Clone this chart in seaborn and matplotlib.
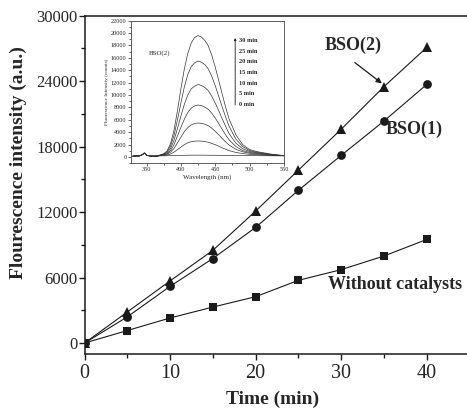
import numpy as np
import pandas as pd
import seaborn as sns
import matplotlib.pyplot as plt
from matplotlib.ticker import MultipleLocator

# main plot data
time_min = [0, 5, 10, 15, 20, 25, 30, 35, 40]
no_catalyst = [0, 1150, 2300, 3300, 4250, 5750, 6730, 7980, 9500]
bso1 = [0, 2400, 5200, 7750, 10600, 14000, 17200, 20350, 23700]
bso2 = [0, 2850, 5700, 8500, 12100, 15850, 19600, 23500, 27100]

# inset spectra (BSO(2)), one curve per irradiation time
wavelength = [330, 340, 344, 347, 350, 355, 360, 365, 370, 375, 380, 385, 390, 395, 400, 405,
              410, 415, 420, 425, 430, 435, 440, 445, 450, 455, 460, 465, 470, 480, 490, 500,
              510, 520, 530, 540, 550]
spec_30 = [150, 200, 400, 650, 300, 180, 150, 180, 350, 550, 1000, 2200, 4300, 7500, 11000, 14200,
           16700, 18400, 19300, 19600, 19350, 18800, 17900, 16400, 14500, 12400, 10200, 8100, 6200,
           3600, 2000, 1200, 900, 700, 500, 350, 250]
spec_25 = [150, 200, 400, 650, 300, 180, 150, 170, 320, 480, 850, 1800, 3500, 6000, 8700, 11300,
           13300, 14600, 15200, 15500, 15300, 14900, 14200, 13000, 11500, 9800, 8100, 6500, 5000,
           2900, 1700, 1050, 800, 620, 450, 330, 250]
spec_20 = [150, 200, 400, 650, 300, 180, 150, 170, 300, 420, 700, 1400, 2700, 4600, 6600, 8500,
           10000, 11000, 11450, 11700, 11550, 11200, 10700, 9800, 8700, 7500, 6200, 5000, 3800,
           2250, 1350, 900, 700, 550, 420, 310, 240]
spec_15 = [150, 200, 400, 650, 300, 180, 150, 160, 280, 380, 550, 1050, 2000, 3400, 4800, 6100,
           7200, 7900, 8250, 8400, 8300, 8050, 7700, 7050, 6300, 5400, 4500, 3600, 2800,
           1700, 1050, 750, 600, 480, 380, 300, 230]
spec_10 = [150, 200, 400, 650, 300, 180, 150, 160, 260, 330, 450, 800, 1400, 2300, 3200, 4100,
           4750, 5200, 5420, 5500, 5450, 5300, 5050, 4650, 4150, 3600, 3000, 2450, 1950,
           1250, 850, 620, 500, 420, 340, 280, 220]
spec_5 = [150, 200, 400, 650, 300, 180, 150, 160, 230, 270, 330, 500, 800, 1200, 1600, 2000,
          2300, 2480, 2570, 2600, 2580, 2500, 2400, 2200, 2000, 1750, 1500, 1270, 1050,
          750, 560, 450, 380, 330, 290, 250, 210]
spec_0 = [150, 200, 400, 650, 300, 180, 150, 160, 200, 210, 220, 235, 250, 265, 280, 290,
          300, 305, 310, 310, 310, 305, 300, 295, 290, 285, 280, 275, 270,
          260, 250, 240, 230, 220, 210, 200, 200]
spectra = [spec_0, spec_5, spec_10, spec_15, spec_20, spec_25, spec_30]
legend_labels = ["30 min", "25 min", "20 min", "15 min", "10 min", "5 min", "0 min"]

sns.set_style("ticks")
plt.rcParams['font.family'] = ['Liberation Serif', 'DejaVu Serif']

ink = '#1a1a1a'
fig = plt.figure(figsize=(4.67, 4.08), dpi=100)
ax = fig.add_axes([0.181, 0.1324, 0.819, 0.8291])

df = pd.DataFrame({"time": time_min, "none": no_catalyst, "bso1": bso1, "bso2": bso2})
sns.lineplot(data=df, x="time", y="none", marker="s", markersize=5.5, color=ink,
             linewidth=0.8, markeredgewidth=0, ax=ax)
sns.lineplot(data=df, x="time", y="bso1", marker="o", markersize=6.3, color=ink,
             linewidth=0.8, markeredgewidth=0, ax=ax)
sns.lineplot(data=df, x="time", y="bso2", marker="^", markersize=7, color=ink,
             linewidth=0.8, markeredgewidth=0, ax=ax)

ax.set_xlim(0, 44.7)
ax.set_ylim(-1000, 30000)
ax.xaxis.set_major_locator(MultipleLocator(10))
ax.xaxis.set_minor_locator(MultipleLocator(5))
ax.yaxis.set_major_locator(MultipleLocator(6000))
ax.yaxis.set_minor_locator(MultipleLocator(3000))
ax.tick_params(axis='both', which='major', direction='out', length=4, width=1, color=ink, pad=1)
ax.tick_params(axis='both', which='minor', direction='out', length=3, width=1, color=ink)
ax.tick_params(axis='x', labelsize=14.5, pad=3)
ax.tick_params(axis='y', labelsize=12)
for s in ['left', 'bottom', 'top']:
    ax.spines[s].set_linewidth(1.1)
    ax.spines[s].set_color(ink)
ax.spines['right'].set_visible(False)

ax.set_xlabel("Time (min)", fontsize=14, fontweight='bold')
ax.set_ylabel("Flourescence intensity (a.u.)", fontsize=14, fontweight='bold')
ax.xaxis.set_label_coords(0.492, -0.108)
ax.yaxis.set_label_coords(-0.15, 0.565)

ax.text(31.4, 27270, "BSO(2)", fontsize=13, fontweight='bold', ha='center', va='center')
ax.annotate("", xy=(34.75, 23800), xytext=(31.6, 25700),
            arrowprops=dict(arrowstyle='-|>', color=ink, lw=0.9, mutation_scale=8,
                            shrinkA=0, shrinkB=0))
ax.text(38.5, 19600, "BSO(1)", fontsize=13, fontweight='bold', ha='center', va='center')
ax.text(36.3, 5390, "Without catalysts", fontsize=13, fontweight='bold', ha='center', va='center')

# inset
axin = fig.add_axes([0.2799, 0.5998, 0.3282, 0.3495])
for spec in spectra:
    sns.lineplot(x=wavelength, y=spec, color='#333333', linewidth=0.5, ax=axin)
axin.set_xlim(327, 550)
axin.set_ylim(-1000, 22000)
axin.xaxis.set_major_locator(MultipleLocator(50))
axin.xaxis.set_minor_locator(MultipleLocator(25))
axin.yaxis.set_major_locator(MultipleLocator(2000))
axin.yaxis.set_minor_locator(MultipleLocator(1000))
axin.tick_params(axis='both', which='major', direction='out', length=2, width=0.5, labelsize=4.5, pad=1)
axin.tick_params(axis='both', which='minor', direction='out', length=1.2, width=0.5)
for s in axin.spines.values():
    s.set_linewidth(0.6)
    s.set_color('#444444')
axin.set_xlabel("Wavelength (nm)", fontsize=5, labelpad=1.5)
axin.set_ylabel("Fluorescence Intensity (counts)", fontsize=3.8, labelpad=1.5)
axin.text(354, 16700, "BSO(2)", fontsize=5, ha='left', va='center')

# time legend: vertical arrow with stacked labels
leg_y = np.linspace(18800, 8500, len(legend_labels))
axin.annotate("", xy=(479, 19200), xytext=(479, 8400),
              arrowprops=dict(arrowstyle='-|>', color=ink, lw=0.6, mutation_scale=3,
                              shrinkA=0, shrinkB=0))
for yy, lab in zip(leg_y, legend_labels):
    axin.text(485, yy, lab, fontsize=4.5, fontweight='bold', ha='left', va='center')

fig.savefig("out.png", dpi=100)
